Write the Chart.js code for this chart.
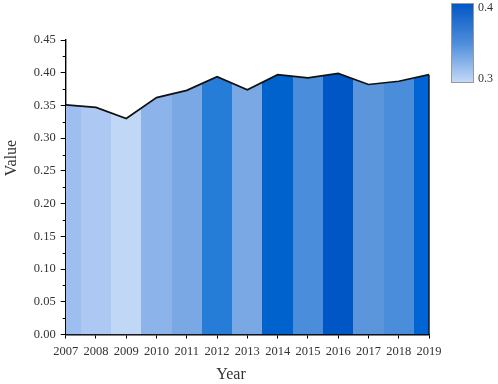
<!DOCTYPE html>
<html>
<head>
<meta charset="utf-8">
<script src="https://cdn.jsdelivr.net/npm/chart.js@4.4.0/dist/chart.umd.min.js"></script>
<style>
  html, body { margin: 0; padding: 0; background: #fff; }
  #wrap { width: 498px; height: 384px; position: relative; }
</style>
</head>
<body>
<div id="wrap"><canvas id="chart"></canvas></div>
<script>
// data
const years = [2007, 2008, 2009, 2010, 2011, 2012, 2013, 2014, 2015, 2016, 2017, 2018, 2019]
const values = [0.351, 0.347, 0.330, 0.362, 0.373, 0.394, 0.374, 0.397, 0.392, 0.399, 0.382, 0.387, 0.397]
const yTicks = [0, 0.05, 0.1, 0.15, 0.2, 0.25, 0.3, 0.35, 0.4, 0.45]
const colorbarLabels = ["0.4", "0.3"]

// band colours, one per year (styles)
const bandColors = [
  "#9dbff0", "#adc9f3", "#c1d7f6", "#8cb3ea", "#7aa8e4", "#267dd8", "#7aa8e4",
  "#0062cc", "#4a8ddb", "#0056c4", "#5b96dc", "#4a8edb", "#0064d4",
]

const fontFamily = "'Liberation Serif', 'DejaVu Serif', serif"
const textColor = "#333"

function bandFill(context) {
  const chart = context.chart
  const area = chart.chartArea
  if (!area) return null
  const xScale = chart.scales.x
  const width = area.right - area.left
  const grad = chart.ctx.createLinearGradient(area.left, 0, area.right, 0)
  for (let i = 0; i < years.length; i++) {
    const from = i === 0 ? years[0] : (years[i - 1] + years[i]) / 2
    const to = i === years.length - 1 ? years[i] : (years[i] + years[i + 1]) / 2
    const p0 = Math.min(1, Math.max(0, (xScale.getPixelForValue(from) - area.left) / width))
    const p1 = Math.min(1, Math.max(0, (xScale.getPixelForValue(to) - area.left) / width))
    grad.addColorStop(p0, bandColors[i])
    grad.addColorStop(p1, bandColors[i])
  }
  return grad
}

const decorations = {
  id: "decorations",
  afterDatasetsDraw(chart) {
    const ctx = chart.ctx
    const x = chart.scales.x
    const y = chart.scales.y
    const area = chart.chartArea

    ctx.save()
    // right edge of the filled area
    const last = years.length - 1
    ctx.strokeStyle = "#111"
    ctx.lineWidth = 1.4
    ctx.beginPath()
    ctx.moveTo(x.getPixelForValue(years[last]), y.getPixelForValue(values[last]))
    ctx.lineTo(x.getPixelForValue(years[last]), y.getPixelForValue(0))
    ctx.stroke()

    // minor ticks on y axis
    ctx.strokeStyle = "#000"
    ctx.lineWidth = 1
    for (let i = 0; i < yTicks.length - 1; i++) {
      const v = (yTicks[i] + yTicks[i + 1]) / 2
      const py = Math.round(y.getPixelForValue(v)) + 0.5
      ctx.beginPath()
      ctx.moveTo(area.left - 3, py)
      ctx.lineTo(area.left, py)
      ctx.stroke()
    }

    // axis titles
    ctx.fillStyle = textColor
    ctx.font = "16px " + fontFamily
    ctx.textAlign = "center"
    ctx.textBaseline = "middle"
    ctx.fillText("Year", 231, 375)
    ctx.save()
    ctx.translate(12, 158)
    ctx.rotate(-Math.PI / 2)
    ctx.fillText("Value", 0, 0)
    ctx.restore()

    // colour bar
    const cbX = 451, cbY = 3, cbW = 23, cbH = 80
    const g = ctx.createLinearGradient(0, cbY, 0, cbY + cbH)
    g.addColorStop(0, "#0056c4")
    g.addColorStop(0.5, "#4d8ddb")
    g.addColorStop(1, "#c6dbf7")
    ctx.fillStyle = g
    ctx.fillRect(cbX, cbY, cbW, cbH)
    ctx.strokeStyle = "#999"
    ctx.lineWidth = 1
    ctx.strokeRect(cbX + 0.5, cbY + 0.5, cbW - 1, cbH - 1)
    ctx.fillStyle = textColor
    ctx.font = "12px " + fontFamily
    ctx.textAlign = "left"
    ctx.fillText(colorbarLabels[0], 478, 8)
    ctx.fillText(colorbarLabels[1], 478, 79)
    ctx.restore()
  },
}

new Chart(document.getElementById("chart"), {
  type: "line",
  data: {
    datasets: [{
      data: years.map((yr, i) => ({ x: yr, y: values[i] })),
      borderColor: "#111",
      borderWidth: 1.7,
      backgroundColor: bandFill,
      fill: "origin",
      pointRadius: 0,
      tension: 0,
    }],
  },
  options: {
    responsive: true,
    maintainAspectRatio: false,
    animation: false,
    layout: { padding: { top: 40, right: 69, left: 0, bottom: 0 } },
    plugins: {
      legend: { display: false },
      tooltip: { enabled: false },
    },
    scales: {
      x: {
        type: "linear",
        min: years[0],
        max: years[years.length - 1],
        afterBuildTicks: (scale) => { scale.ticks = years.map(v => ({ value: v })) },
        afterFit: (scale) => { scale.height = 49.5 },
        ticks: {
          callback: (v) => String(v),
          color: textColor,
          font: { family: fontFamily, size: 12.5 },
          padding: 6,
          maxRotation: 0,
          autoSkip: false,
        },
        grid: { drawOnChartArea: false, drawTicks: true, tickLength: 4, color: "#000" },
        border: { display: true, color: "#000", width: 1.4 },
      },
      y: {
        min: 0,
        max: 0.45,
        afterBuildTicks: (scale) => { scale.ticks = yTicks.map(v => ({ value: v })) },
        afterFit: (scale) => { scale.width = 65.7 },
        ticks: {
          callback: (v) => Number(v).toFixed(2),
          color: textColor,
          font: { family: fontFamily, size: 12.5 },
          padding: 5,
        },
        grid: { drawOnChartArea: false, drawTicks: true, tickLength: 5, color: "#000" },
        border: { display: true, color: "#000", width: 1.4 },
      },
    },
  },
  plugins: [decorations],
})
</script>
</body>
</html>
